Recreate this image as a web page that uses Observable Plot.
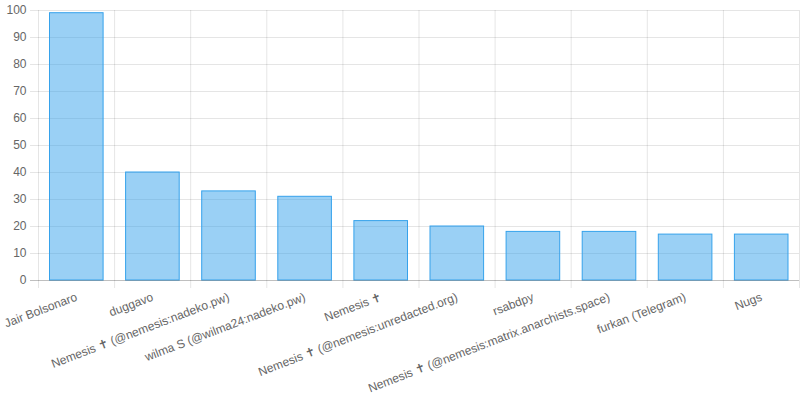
<!DOCTYPE html>
<html>
<head>
<meta charset="utf-8">
<script src="https://cdn.jsdelivr.net/npm/d3@7"></script>
<script src="https://cdn.jsdelivr.net/npm/@observablehq/plot@0.6"></script>
<style>
  html, body { margin: 0; padding: 0; background: #fff; }
  #chart { width: 800px; height: 400px; }
</style>
</head>
<body>
<div id="chart"></div>
<script>
const categories = [
  "Jair Bolsonaro",
  "duggavo",
  "Nemesis ✝ (@nemesis:nadeko.pw)",
  "wilma S (@wilma24:nadeko.pw)",
  "Nemesis ✝",
  "Nemesis ✝ (@nemesis:unredacted.org)",
  "rsabdpy",
  "Nemesis ✝ (@nemesis:matrix.anarchists.space)",
  "furkan (Telegram)",
  "Nugs"
];
const values = [99, 40, 33, 31, 22, 20, 18, 18, 17, 17];
const yTicks = [0, 10, 20, 30, 40, 50, 60, 70, 80, 90, 100];

const data = categories.map((c, i) => ({ name: c, i, value: values[i] }));
const edges = d3.range(categories.length + 1);
const centers = categories.map((_, i) => i + 0.5);

const chart = Plot.plot({
  width: 800,
  height: 400,
  marginLeft: 38,
  marginRight: 1,
  marginTop: 10,
  marginBottom: 120,
  style: { fontFamily: "'Liberation Sans', Arial, sans-serif", fontSize: "12px", color: "#666", background: "#fff" },
  x: { type: "linear", domain: [0, categories.length] },
  y: { domain: [0, 100] },
  marks: [
    Plot.ruleY(yTicks.filter(d => d !== 0), { y: d => d, stroke: "rgba(0,0,0,0.1)", strokeOpacity: 1, insetLeft: -8 }),
    Plot.ruleX(edges, { x: d => d, stroke: "rgba(0,0,0,0.1)", strokeOpacity: 1, insetBottom: -8 }),
    Plot.rect(data, {
      x1: d => d.i, x2: d => d.i + 1, y1: 0, y2: "value",
      insetLeft: 11.5, insetRight: 11,
      fill: "rgba(54,162,235,0.5)", stroke: "rgb(54,162,235)", strokeWidth: 1
    }),
    Plot.ruleY([0], { stroke: "rgba(0,0,0,0.25)", strokeOpacity: 1, insetLeft: -8 }),
    Plot.axisY({ ticks: yTicks, tickSize: 0, tickPadding: 12, label: null, fontSize: 12 }),
    Plot.axisX({
      ticks: centers,
      tickFormat: d => categories[Math.floor(d)],
      tickSize: 0,
      tickPadding: 16,
      tickRotate: -21,
      label: null,
      fontSize: 12
    })
  ]
});
document.getElementById("chart").appendChild(chart);
</script>
</body>
</html>
